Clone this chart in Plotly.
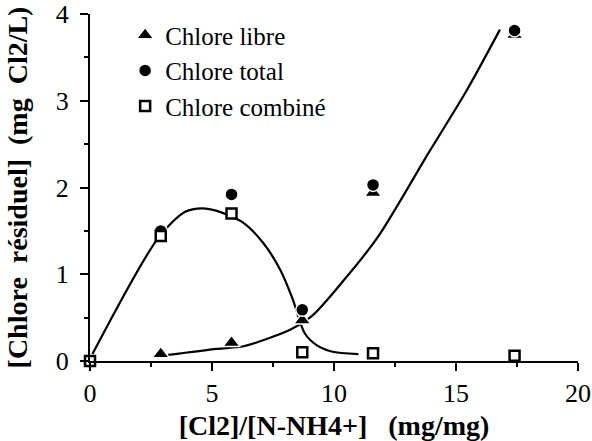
import plotly.graph_objects as go

# ratio Cl2 / N-NH4+ (mg/mg)
ratio = [0, 2.9, 5.8, 8.7, 11.6, 17.4]
chlore_libre = [0.0, 0.08, 0.21, 0.47, 1.94, 3.76]
chlore_total = [0.0, 1.50, 1.92, 0.59, 2.03, 3.81]
chlore_combine = [0.0, 1.44, 1.70, 0.10, 0.09, 0.06]

# hand-drawn trend curves
fit_comb_x = [0.1, 2.8, 3.9, 4.6, 5.2, 6.3, 7.1, 7.8, 8.3, 8.8, 9.3, 9.9, 11.0]
fit_comb_y = [0.08, 1.42, 1.72, 1.76, 1.73, 1.59, 1.36, 1.05, 0.72, 0.32, 0.18, 0.11, 0.08]
fit_libre_x = [3.2, 5.2, 6.3, 7.4, 8.2, 9.1, 10.4, 11.8, 13.9, 15.4, 16.8]
fit_libre_y = [0.07, 0.14, 0.17, 0.27, 0.36, 0.52, 0.93, 1.43, 2.41, 3.10, 3.82]

serif = "'Liberation Serif', 'Times New Roman', serif"
sp = "\u00a0"

fig = go.Figure()

fig.add_trace(go.Scatter(x=fit_comb_x, y=fit_comb_y, mode="lines",
                         line=dict(color="black", width=2.2, shape="spline", smoothing=0.8),
                         showlegend=False, hoverinfo="skip"))
fig.add_trace(go.Scatter(x=fit_libre_x, y=fit_libre_y, mode="lines",
                         line=dict(color="black", width=2.2, shape="spline", smoothing=0.8),
                         showlegend=False, hoverinfo="skip"))

fig.add_trace(go.Scatter(x=ratio, y=chlore_libre, mode="markers", name="Chlore libre",
                         marker=dict(symbol="triangle-up", size=15, color="black",
                                     line=dict(color="white", width=1.5)),
                         cliponaxis=False))
fig.add_trace(go.Scatter(x=ratio, y=chlore_total, mode="markers", name="Chlore total",
                         marker=dict(symbol="circle", size=13, color="black",
                                     line=dict(color="white", width=1.5)),
                         cliponaxis=False))
fig.add_trace(go.Scatter(x=ratio, y=chlore_combine, mode="markers", name="Chlore combiné",
                         marker=dict(symbol="square", size=10, color="white",
                                     line=dict(color="black", width=2.5)),
                         cliponaxis=False))

fig.update_layout(
    width=592, height=441,
    margin=dict(l=90, r=14, t=14, b=80),
    plot_bgcolor="white", paper_bgcolor="white",
    font=dict(family=serif, size=26, color="black"),
    legend=dict(x=0.072, y=1.005, xanchor="left", yanchor="top",
                bgcolor="rgba(0,0,0,0)",
                font=dict(family=serif, size=25), itemwidth=30),
    xaxis=dict(range=[0, 20], tickvals=[0, 5, 10, 15, 20], automargin=False,
               showline=True, linecolor="black", linewidth=2,
               ticks="outside", ticklen=8, tickwidth=2, tickcolor="black",
               ticklabelstandoff=0, ticklabeloverflow="allow",
               minor=dict(ticks="outside", ticklen=4, tickwidth=1.5, dtick=2.5, tickcolor="black"),
               showgrid=False, zeroline=False,
               title=dict(text=f"<b>[Cl2]/[N-NH4+]{sp*3}(mg/mg)</b>",
                          font=dict(size=28), standoff=18)),
    yaxis=dict(range=[0, 4], tickvals=[0, 1, 2, 3, 4], automargin=False,
               showline=True, linecolor="black", linewidth=2,
               ticks="outside", ticklen=8, tickwidth=2, tickcolor="black",
               ticklabelstandoff=6, ticklabeloverflow="allow",
               minor=dict(ticks="outside", ticklen=4, tickwidth=1.5, dtick=0.5, tickcolor="black"),
               showgrid=False, zeroline=False,
               title=dict(text=f"<b>[Chlore{sp*2}résiduel]{sp*2}(mg{sp*2}Cl2/L)</b>",
                          font=dict(size=28), standoff=20)),
)

# drop the default page margin so the figure sits at the window's corner
fig.write_html("out.html", config={"displayModeBar": False},
               post_script="document.body.style.margin='0';")
